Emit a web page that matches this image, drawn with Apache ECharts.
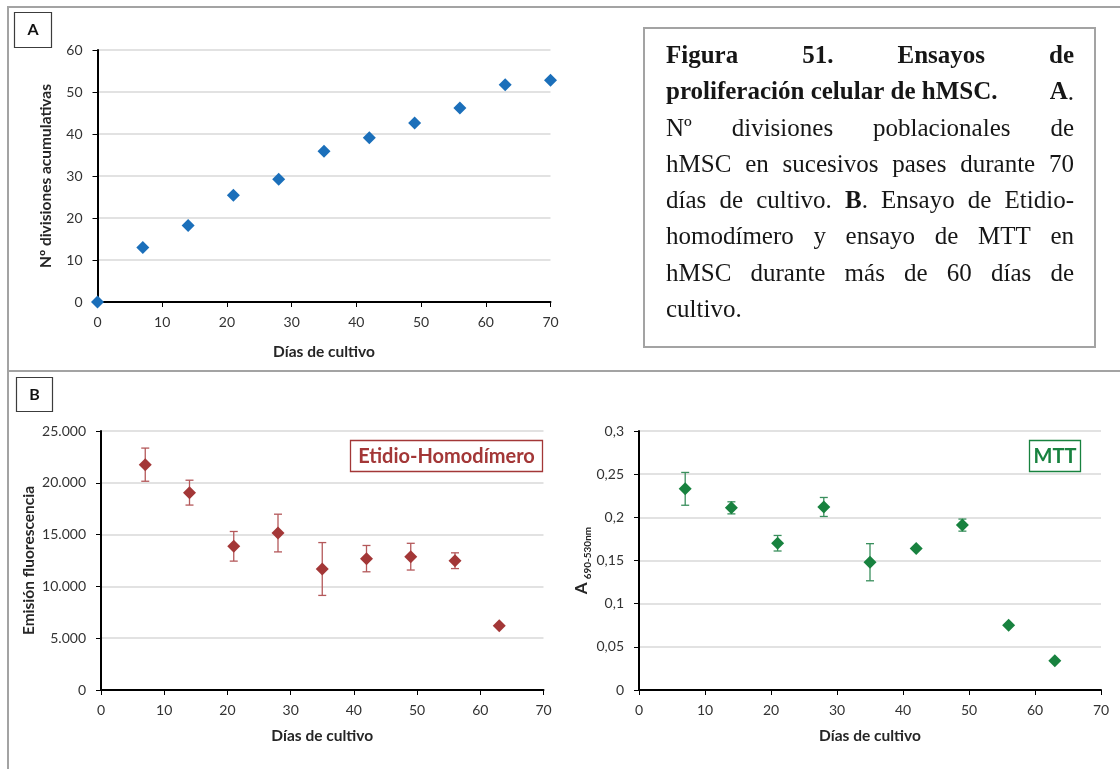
<!DOCTYPE html>
<html>
<head>
<meta charset="utf-8">
<script src="https://cdn.jsdelivr.net/npm/echarts@6/dist/echarts.min.js"></script>
<style>
html, body { margin: 0; padding: 0; background: #fff; }
#chart { width: 1120px; height: 769px; }
</style>
</head>
<body>
<div id="chart"></div>
<script>
// Panel A: cumulative population doublings over the culture period
const diasA = [0, 7, 14, 21, 28, 35, 42, 49, 56, 63, 70];
const divisiones = [0, 13.0, 18.2, 25.4, 29.2, 35.9, 39.1, 42.6, 46.2, 51.7, 52.8];

// Panel B: ethidium homodimer and MTT assays
const diasB = [7, 14, 21, 28, 35, 42, 49, 56, 63];
const etidio = [21750, 19050, 13870, 15150, 11680, 12680, 12870, 12480, 6210];
const etidioErr = [1600, 1200, 1430, 1820, 2550, 1270, 1290, 760, 0];
const mtt = [0.233, 0.211, 0.170, 0.212, 0.148, 0.164, 0.191, 0.075, 0.034];
const mttErr = [0.019, 0.007, 0.009, 0.011, 0.0215, 0, 0.007, 0, 0];

// Caption lines (**bold** segments, \u00a0 keeps words together), justified in the box
const captionLines = [
  '**Figura 51. Ensayos de**',
  '**proliferación\u00a0celular\u00a0de\u00a0hMSC. A**.',
  'Nº divisiones poblacionales de',
  'hMSC en sucesivos pases durante 70',
  'días de cultivo. **B**. Ensayo de Etidio-',
  'homodímero y ensayo de MTT en',
  'hMSC durante más de 60 días de',
  'cultivo.'
];

const BLUE = '#1b6fba';
const RED = '#a33737';
const RED_ERR = '#b4585a';
const GREEN = '#18823f';
const GREEN_ERR = '#3a8f5d';
const AXIS_FONT = 'Lato';
const TICK_COLOR = '#333';
const TITLE_COLOR = '#262626';

const thousands = v => v === 0 ? '0' : String(Math.round(v)).replace(/\B(?=(\d{3})+(?!\d))/g, '.');
const decimalComma = v => String(+v.toFixed(3)).replace('.', ',');

function xAxisCfg(gridIndex, gap) {
  return {
    type: 'value', gridIndex, min: 0, max: 70, interval: 10,
    name: 'Días de cultivo', nameLocation: 'middle', nameGap: gap,
    nameTextStyle: { fontFamily: AXIS_FONT, fontWeight: 'bold', fontSize: 15.5, color: TITLE_COLOR },
    axisLine: { show: true, onZero: false, lineStyle: { color: '#000', width: 2 } },
    axisTick: { show: true, length: 5, lineStyle: { color: '#000', width: 1 } },
    axisLabel: { fontFamily: AXIS_FONT, fontSize: 14, color: TICK_COLOR, margin: 13 },
    splitLine: { show: false }
  };
}
function yAxisCfg(gridIndex, max, interval, name, gap, fmt, nameStyle) {
  return {
    type: 'value', gridIndex, min: 0, max, interval,
    name, nameLocation: 'middle', nameGap: gap,
    nameTextStyle: Object.assign({ fontFamily: AXIS_FONT, fontWeight: 'bold', fontSize: 15.5, color: TITLE_COLOR }, nameStyle || {}),
    axisLine: { show: true, onZero: false, lineStyle: { color: '#000', width: 2 } },
    axisTick: { show: true, length: 5, lineStyle: { color: '#000', width: 1 } },
    axisLabel: { fontFamily: AXIS_FONT, fontSize: 14, color: TICK_COLOR, margin: 15, formatter: fmt },
    splitLine: { show: true, lineStyle: { color: '#d9d9d9', width: 1.5 } }
  };
}

function errorSeries(xi, yi, xs, ys, errs, color) {
  return {
    type: 'custom', xAxisIndex: xi, yAxisIndex: yi, z: 1, silent: true,
    data: xs.map((x, i) => [x, ys[i] - errs[i], ys[i] + errs[i]]).filter((d, i) => errs[i] > 0),
    renderItem(params, api) {
      const lo = api.coord([api.value(0), api.value(1)]);
      const hi = api.coord([api.value(0), api.value(2)]);
      const w = 4;
      const style = { stroke: color, lineWidth: 1.3 };
      return {
        type: 'group',
        children: [
          { type: 'line', shape: { x1: lo[0], y1: lo[1], x2: hi[0], y2: hi[1] }, style },
          { type: 'line', shape: { x1: lo[0] - w, y1: lo[1], x2: lo[0] + w, y2: lo[1] }, style },
          { type: 'line', shape: { x1: hi[0] - w, y1: hi[1], x2: hi[0] + w, y2: hi[1] }, style }
        ]
      };
    }
  };
}

function scatterSeries(xi, yi, xs, ys, color) {
  return {
    type: 'scatter', xAxisIndex: xi, yAxisIndex: yi, z: 3,
    symbol: 'diamond', symbolSize: 13,
    itemStyle: { color, opacity: 1 },
    data: xs.map((x, i) => [x, ys[i]])
  };
}

// ---- justified caption text built from measured word widths ----
const CAP_LEFT = 666, CAP_RIGHT = 1074, CAP_FIRST_BASE = 65, CAP_STEP = 36.2;
const measureCtx = document.createElement('canvas').getContext('2d');
function fontStr(bold, size) { return (bold ? 'bold ' : '') + size + 'px "Liberation Serif"'; }
function segWidth(seg, size) { measureCtx.font = fontStr(seg.b, size); return measureCtx.measureText(seg.t).width; }
function parseLine(src) {
  const words = []; let cur = [];
  src.split(/(\*\*.*?\*\*)/).filter(Boolean).forEach(tok => {
    const bold = tok.startsWith('**');
    const text = bold ? tok.slice(2, -2) : tok;
    text.split(' ').forEach((p, i) => {
      if (i > 0) { if (cur.length) words.push(cur); cur = []; }
      if (p) cur.push({ t: p.replace(/\u00a0/g, ' '), b: bold });
    });
  });
  if (cur.length) words.push(cur);
  return words;
}
const parsed = captionLines.map(parseLine);
let capSize = 25;
for (; capSize > 14; capSize -= 0.5) {
  const fits = parsed.every(words => {
    let w = 0;
    words.forEach(wd => wd.forEach(s => { w += segWidth(s, capSize); }));
    measureCtx.font = fontStr(false, capSize);
    w += (words.length - 1) * measureCtx.measureText(' ').width * 0.8;
    return w <= CAP_RIGHT - CAP_LEFT;
  });
  if (fits) break;
}
const captionTexts = [];
parsed.forEach((words, li) => {
  const widths = words.map(wd => wd.reduce((a, s) => a + segWidth(s, capSize), 0));
  const total = widths.reduce((a, b) => a + b, 0);
  const last = li === parsed.length - 1;
  measureCtx.font = fontStr(false, capSize);
  const gap = last ? measureCtx.measureText(' ').width : (CAP_RIGHT - CAP_LEFT - total) / (words.length - 1);
  let x = CAP_LEFT;
  const y = CAP_FIRST_BASE + li * CAP_STEP - capSize * 0.33;
  words.forEach((wd, wi) => {
    let sx = x;
    wd.forEach(s => {
      captionTexts.push({
        type: 'text', x: sx, y, z: 20,
        style: { text: s.t, font: fontStr(s.b, capSize), fill: '#161616', align: 'left', verticalAlign: 'middle' }
      });
      sx += segWidth(s, capSize);
    });
    x += widths[wi] + gap;
  });
});

const frame = { stroke: '#a3a3a3', lineWidth: 2 };
const graphics = [
  { type: 'line', shape: { x1: 8, y1: 7, x2: 1120, y2: 7 }, style: frame },
  { type: 'line', shape: { x1: 8, y1: 6, x2: 8, y2: 769 }, style: frame },
  { type: 'line', shape: { x1: 8, y1: 371, x2: 1120, y2: 371 }, style: frame },
  { type: 'rect', shape: { x: 14.5, y: 12.5, width: 37, height: 35 }, style: { fill: '#fff', stroke: '#3c3c3c', lineWidth: 1.2 } },
  { type: 'text', x: 33, y: 30, style: { text: 'A', font: 'bold 16px Lato', fill: '#111', align: 'center', verticalAlign: 'middle' } },
  { type: 'rect', shape: { x: 16.5, y: 377.5, width: 36, height: 34 }, style: { fill: '#fff', stroke: '#3c3c3c', lineWidth: 1.2 } },
  { type: 'text', x: 34.5, y: 395, style: { text: 'B', font: 'bold 16px Lato', fill: '#111', align: 'center', verticalAlign: 'middle' } },
  { type: 'rect', shape: { x: 644, y: 28, width: 451, height: 319 }, style: { fill: '#fff', stroke: '#a3a3a3', lineWidth: 2 } },
  { type: 'rect', z: 10, shape: { x: 350.5, y: 440.5, width: 192, height: 31 }, style: { fill: '#fff', stroke: RED, lineWidth: 1.3 } },
  { type: 'text', z: 11, x: 446.5, y: 456.5, style: { text: 'Etidio-Homodímero', font: 'bold 20px Lato', fill: RED, align: 'center', verticalAlign: 'middle' } },
  { type: 'rect', z: 10, shape: { x: 1029.5, y: 440.5, width: 51, height: 31 }, style: { fill: '#fff', stroke: GREEN, lineWidth: 1.3 } },
  { type: 'text', z: 11, x: 1055, y: 456.5, style: { text: 'MTT', font: 'bold 20px Lato', fill: GREEN, align: 'center', verticalAlign: 'middle' } }
].concat(captionTexts);

const chart = echarts.init(document.getElementById('chart'), null, { renderer: 'canvas' });
chart.setOption({
  animation: false,
  backgroundColor: '#fff',
  grid: [
    { left: 97.5, top: 50, width: 453, height: 252 },
    { left: 101, top: 431, width: 442.5, height: 259 },
    { left: 639, top: 431, width: 462, height: 259 }
  ],
  xAxis: [xAxisCfg(0, 42), xAxisCfg(1, 38), xAxisCfg(2, 38)],
  yAxis: [
    yAxisCfg(0, 60, 10, 'Nº divisiones acumulativas', 44, v => String(v)),
    yAxisCfg(1, 25000, 5000, 'Emisión fluorescencia', 64, thousands),
    yAxisCfg(2, 0.3, 0.05, '{a|A}{s|690-530nm}', 46, decimalComma, {
      rich: {
        a: { fontFamily: AXIS_FONT, fontWeight: 'bold', fontSize: 17, color: TITLE_COLOR, lineHeight: 22, verticalAlign: 'middle' },
        s: { fontFamily: AXIS_FONT, fontWeight: 'bold', fontSize: 10, color: TITLE_COLOR, lineHeight: 22, verticalAlign: 'bottom', padding: [0, 0, 0, 3] }
      }
    })
  ],
  series: [
    scatterSeries(0, 0, diasA, divisiones, BLUE),
    errorSeries(1, 1, diasB, etidio, etidioErr, RED_ERR),
    scatterSeries(1, 1, diasB, etidio, RED),
    errorSeries(2, 2, diasB, mtt, mttErr, GREEN_ERR),
    scatterSeries(2, 2, diasB, mtt, GREEN)
  ],
  graphic: graphics
});
</script>
</body>
</html>
